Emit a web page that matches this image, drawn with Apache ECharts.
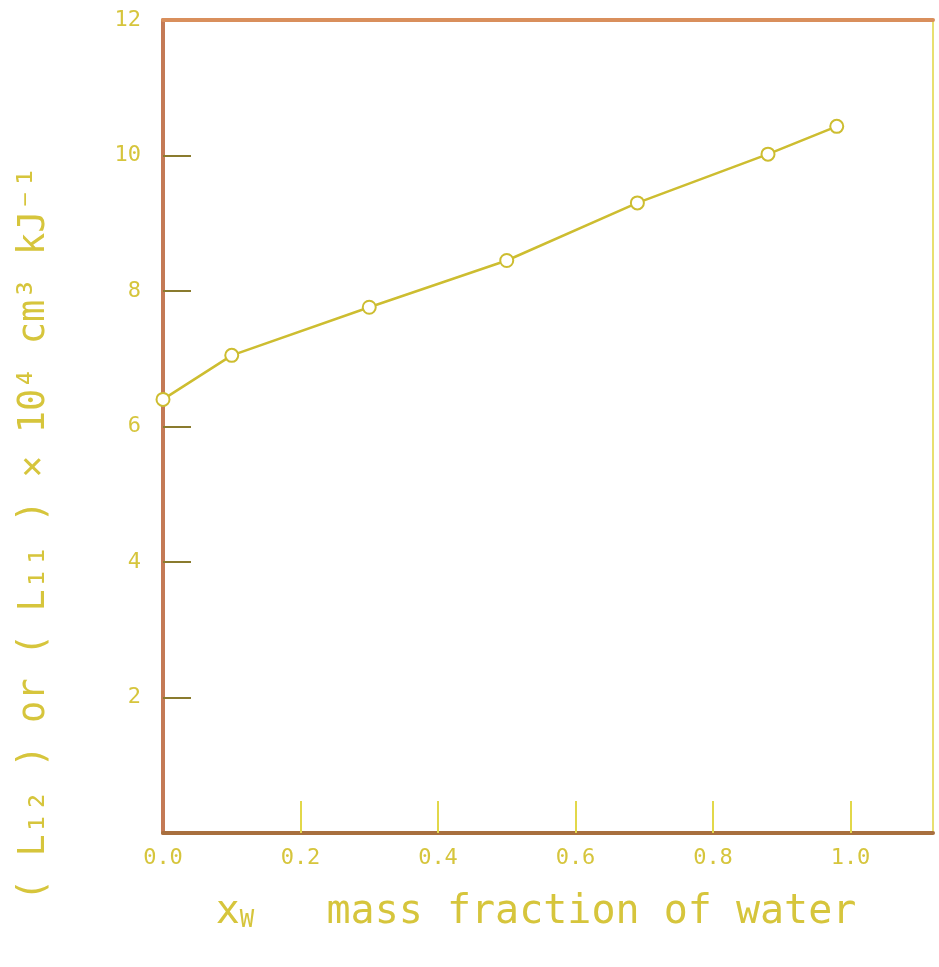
<!DOCTYPE html>
<html>
<head>
<meta charset="utf-8">
<script src="https://cdn.jsdelivr.net/npm/echarts@6/dist/echarts.min.js"></script>
<style>
  html, body { margin: 0; padding: 0; background: #fff; }
  #chart { width: 939px; height: 967px; }
</style>
</head>
<body>
<div id="chart"></div>
<script>
// 读图得到的数据
const waterFraction = [0, 0.1, 0.3, 0.5, 0.69, 0.88, 0.98];
const lValues = [6.4, 7.05, 7.76, 8.45, 9.3, 10.02, 10.43];
const xTicks = [0, 0.2, 0.4, 0.6, 0.8, 1.0];
const yTicks = [2, 4, 6, 8, 10, 12];

const textColor = '#d6c53c';
const lineColor = '#cdbd30';
const monoFont = 'DejaVu Sans Mono';

const points = waterFraction.map((x, i) => [x, lValues[i]]);

const chart = echarts.init(document.getElementById('chart'));

const option = {
  backgroundColor: '#ffffff',
  animation: false,
  grid: {
    left: 163,
    right: 6,
    top: 20,
    bottom: 134,
    containLabel: false
  },
  xAxis: [
    {
      type: 'value',
      min: 0,
      max: 1.12,
      position: 'bottom',
      axisLine: { show: true, onZero: false, lineStyle: { color: '#a86f3e', width: 4 } },
      // 0.0 处的刻度与纵轴重合，不画
      axisTick: { show: true, inside: true, length: 32, customValues: xTicks.slice(1), lineStyle: { color: '#e2d84a', width: 2 } },
      axisLabel: {
        margin: 14,
        color: textColor,
        fontFamily: monoFont,
        fontSize: 22,
        customValues: xTicks,
        formatter: v => v.toFixed(1)
      },
      splitLine: { show: false },
      name: '{x|x}{w|W}   mass fraction of water',
      nameLocation: 'middle',
      nameGap: 60,
      nameTextStyle: {
        color: textColor,
        fontFamily: monoFont,
        fontSize: 40,
        padding: [0, 24, 0, 0],
        rich: {
          x: { color: textColor, fontFamily: monoFont, fontSize: 40 },
          w: { color: textColor, fontFamily: monoFont, fontSize: 24, padding: [16, 0, 0, 0] }
        }
      }
    },
    {
      // 上边框
      type: 'value',
      min: 0,
      max: 1.12,
      position: 'top',
      axisLine: { show: true, onZero: false, lineStyle: { color: '#d98f5c', width: 4 } },
      axisTick: { show: false },
      axisLabel: { show: false },
      splitLine: { show: false }
    }
  ],
  yAxis: [
    {
      type: 'value',
      min: 0,
      max: 12,
      interval: 2,
      position: 'left',
      axisLine: { show: true, onZero: false, lineStyle: { color: '#c47a55', width: 4 } },
      axisTick: { show: true, inside: true, length: 28, customValues: yTicks.slice(0, -1), lineStyle: { color: '#8a7b2e', width: 2 } },
      axisLabel: {
        margin: 22,
        color: textColor,
        fontFamily: monoFont,
        fontSize: 22,
        padding: [12, 0, 0, 0],
        customValues: yTicks
      },
      splitLine: { show: false }
    },
    {
      // 右边框
      type: 'value',
      min: 0,
      max: 12,
      position: 'right',
      axisLine: { show: true, onZero: false, lineStyle: { color: '#e8e070', width: 2 } },
      axisTick: { show: false },
      axisLabel: { show: false },
      splitLine: { show: false }
    }
  ],
  graphic: [
    {
      type: 'text',
      left: 16,
      top: 166,
      rotation: Math.PI / 2,
      originX: 0,
      originY: 0,
      style: {
        text: '( L₁₂ ) or ( L₁₁ ) × 10⁴ cm³ kJ⁻¹',
        fill: textColor,
        font: '37px "DejaVu Sans Mono"'
      }
    }
  ],
  series: [
    {
      name: 'L',
      type: 'line',
      xAxisIndex: 0,
      yAxisIndex: 0,
      data: points,
      symbol: 'circle',
      symbolSize: 13,
      showAllSymbol: true,
      lineStyle: { color: lineColor, width: 2.5 },
      itemStyle: { color: '#ffffff', borderColor: lineColor, borderWidth: 2 },
      z: 3
    }
  ]
};

chart.setOption(option);
</script>
</body>
</html>
